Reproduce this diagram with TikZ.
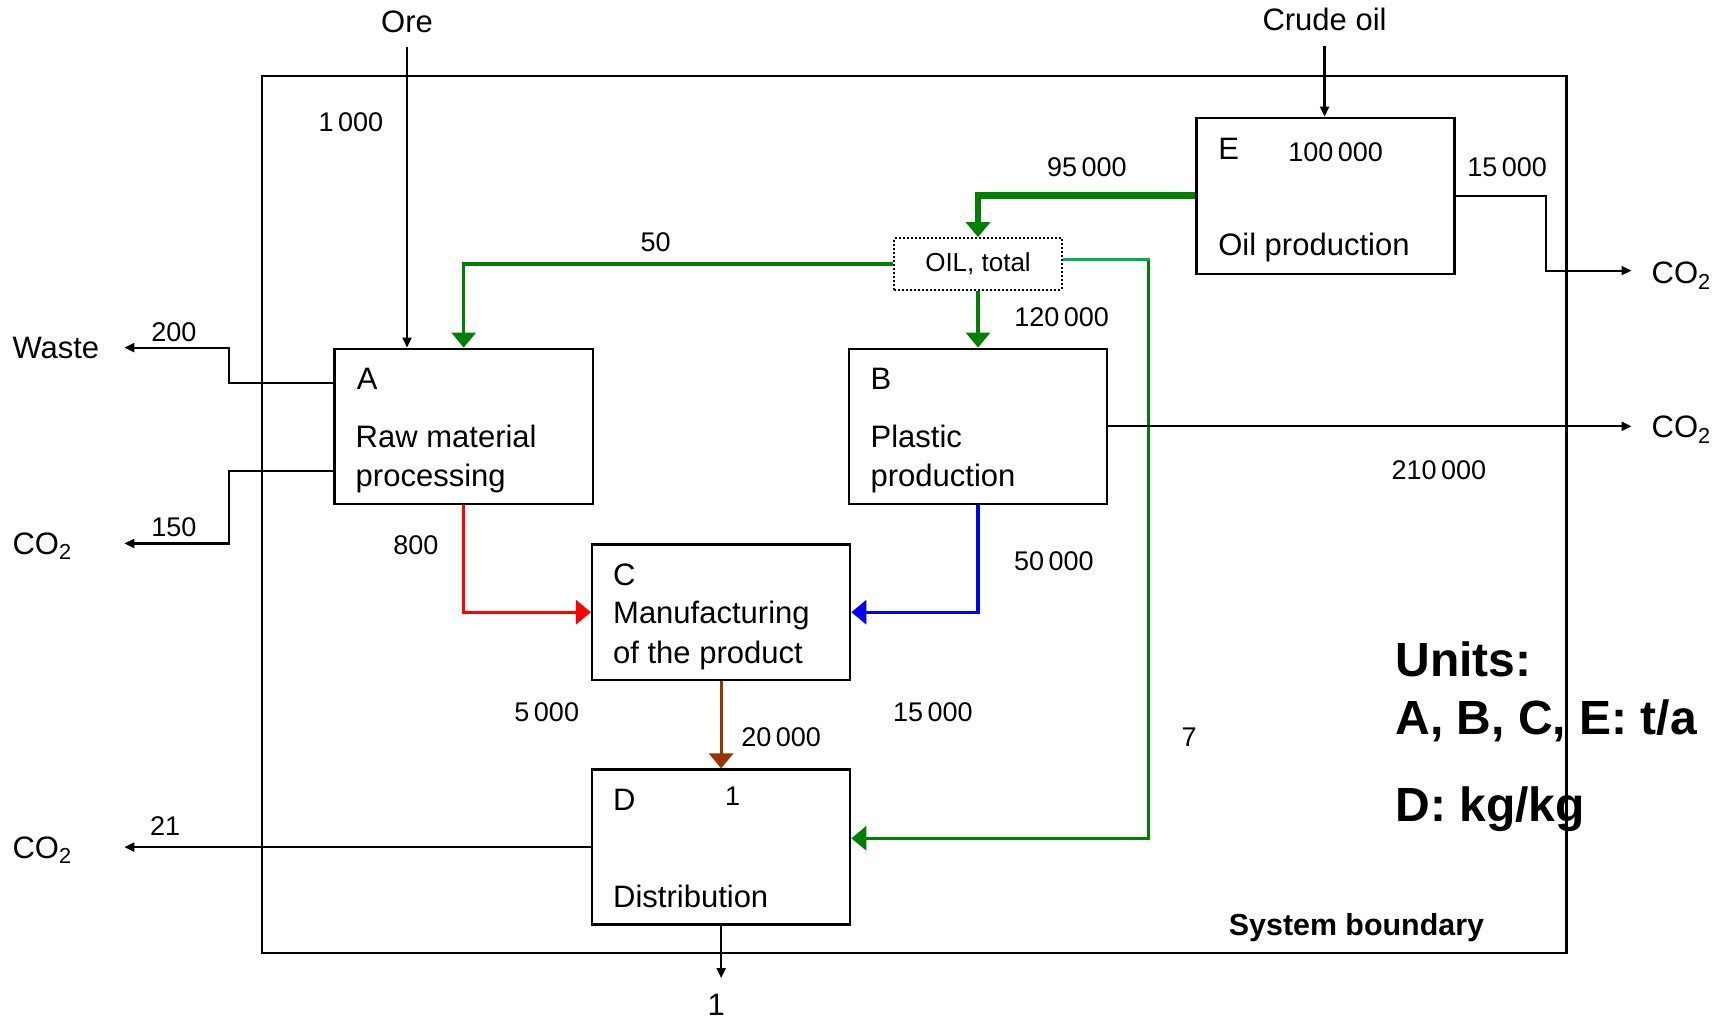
\documentclass[tikz,border=0pt]{standalone}
\usepackage{fontspec}
\setmainfont{Liberation Sans}
\usetikzlibrary{arrows.meta}
\definecolor{oilgreen}{RGB}{0,128,0}
\definecolor{feedgreen}{RGB}{0,176,80}
\definecolor{rawred}{RGB}{255,0,0}
\definecolor{plasticblue}{RGB}{0,0,255}
\definecolor{productbrown}{RGB}{153,51,0}
\tikzset{
  unit/.style={draw,line width=1.2pt,minimum width=129pt,minimum height=77.5pt,inner sep=0pt},
  lbl/.style={font=\fontsize{15.5}{18}\selectfont,inner sep=0pt,anchor=base west},
  num/.style={font=\fontsize{13.5}{16}\selectfont,inner sep=0pt},
  bigbold/.style={font=\bfseries\fontsize{24}{28}\selectfont,inner sep=0pt,anchor=base west},
  stream/.style={line width=1.1pt,-{Triangle[length=5pt,width=4.5pt]}},
  colstream/.style={line width=1.6pt,-{Triangle[length=7.5pt,width=12pt]}},
}

\begin{document}
\begin{tikzpicture}[x=0.55pt,y=-0.55pt]
\useasboundingbox (0,0) rectangle (1568,929);
% ---------- system boundary ----------
\draw[line width=1.2pt] (238,69) rectangle (1424,866);
\node[font=\bfseries\fontsize{15.2}{18}\selectfont,anchor=base,inner sep=0pt] (sysb) at (1233,850) {System boundary};
% units note
\node[bigbold] (units1) at (1268,615) {Units:};
\node[bigbold] (units2) at (1268,668) {A, B, C, E: t/a};
\node[bigbold] (units3) at (1268,747) {D: kg/kg};
% ---------- process units ----------
\node[unit] (A) at (421.5,387.5) {};
\node[unit] (B) at (889,387.5) {};
\node[unit,minimum height=67.7pt] (C) at (655.5,556.5) {};
\node[unit] (D) at (655.5,770) {};
\node[unit,minimum height=78pt] (E) at (1205,178) {};
\node[draw,densely dotted,line width=1pt,minimum width=83.6pt,minimum height=25.9pt,inner sep=0pt,
  font=\fontsize{13}{15}\selectfont] (oil) at (889,240) {OIL, total};
% unit texts
\node[lbl] (Aid) at (324,354) {A};
\node[lbl] (Aname1) at (323,407) {Raw material};
\node[lbl] (Aname2) at (323,442) {processing};
\node[lbl] (Bid) at (791,354) {B};
\node[lbl] (Bname1) at (791,407) {Plastic};
\node[lbl] (Bname2) at (791,442) {production};
\node[lbl] (Cid) at (557,532) {C};
\node[lbl] (Cname1) at (557,567) {Manufacturing};
\node[lbl] (Cname2) at (557,603) {of the product};
\node[lbl] (Did) at (557,737) {D};
\node[lbl] (Dname) at (557,825) {Distribution};
\node[lbl] (Eid) at (1107,145) {E};
\node[lbl] (Ename) at (1107,232) {Oil production};
\node[num] (Dval) at (666,724) {1};
\node[num] (Eval) at (1214,138) {100\,000};
% ---------- inputs ----------
\node[lbl,anchor=center] (ore) at (370,20) {Ore};
\node[lbl,anchor=center] (crude) at (1204,18) {Crude oil};
\draw[stream] ([yshift=-7pt]ore.south) -- (ore.south |- A.north);
\draw[stream] ([yshift=-7pt]crude.south) -- (crude.south |- E.north);
% ---------- oil network ----------
\draw[oilgreen,colstream,line width=3.4pt] (E.west) -| (oil.north);
\draw[oilgreen,colstream] (oil.west) -| (A.north);
\draw[oilgreen,colstream] (oil.south) -- (B.north);
\coordinate (bend7) at (1044,236);
\draw[oilgreen,colstream] (bend7) |- ([yshift=4.4pt]D.east);
\draw[feedgreen,line width=1.6pt] (oil.east |- bend7) -- ([xshift=0.8pt]bend7);
% ---------- product chain ----------
\draw[rawred,colstream] (A.south) |- (C.west);
\draw[plasticblue,colstream] (B.south) |- (C.east);
\draw[productbrown,colstream] (C.south) -- (D.north);
% ---------- outputs ----------
\coordinate (wasteend) at (113,316);
\coordinate (co2aend) at (113,494);
\coordinate (co2dend) at (113,770);
\coordinate (co2eend) at (1483,246);
\coordinate (co2bend) at (1483,387.5);
\coordinate (prodend) at (655.5,889);
\draw[stream] (A.west |- 0,348) -- ++(-95,0) |- (wasteend);
\draw[stream] (A.west |- 0,428) -- ++(-95,0) |- (co2aend);
\draw[stream] (D.west) -- (co2dend);
\draw[stream] (E.east) -- ++(82,0) |- (co2eend);
\draw[stream] (B.east) -- (co2bend);
\draw[stream] (D.south) -- (prodend);
\node[lbl] (waste) at (11,326) {Waste};
\node[lbl] (co2a) at (11,504) {CO\textsubscript{2}};
\node[lbl] (co2d) at (11,780) {CO\textsubscript{2}};
\node[lbl] (co2e) at (1501,258) {CO\textsubscript{2}};
\node[lbl] (co2b) at (1501,398) {CO\textsubscript{2}};
\node[lbl,anchor=center] (prod) at (651,913) {1};
% ---------- flow values ----------
\node[num] (v1) at (319,111) {1\,000};
\node[num] (v2) at (988,152) {95\,000};
\node[num] (v3) at (1370,152) {15\,000};
\node[num] (v4) at (596,220) {50};
\node[num] (v5) at (965,288) {120\,000};
\node[num] (v6) at (158,302) {200};
\node[num] (v7) at (158,479) {150};
\node[num] (v8) at (378,496) {800};
\node[num] (v9) at (958,510) {50\,000};
\node[num] (v10) at (1308,427) {210\,000};
\node[num] (v11) at (497,647) {5\,000};
\node[num] (v12) at (848,647) {15\,000};
\node[num] (v13) at (710,670) {20\,000};
\node[num] (v14) at (1081,670) {7};
\node[num] (v15) at (150,751) {21};
\end{tikzpicture}
\end{document}
